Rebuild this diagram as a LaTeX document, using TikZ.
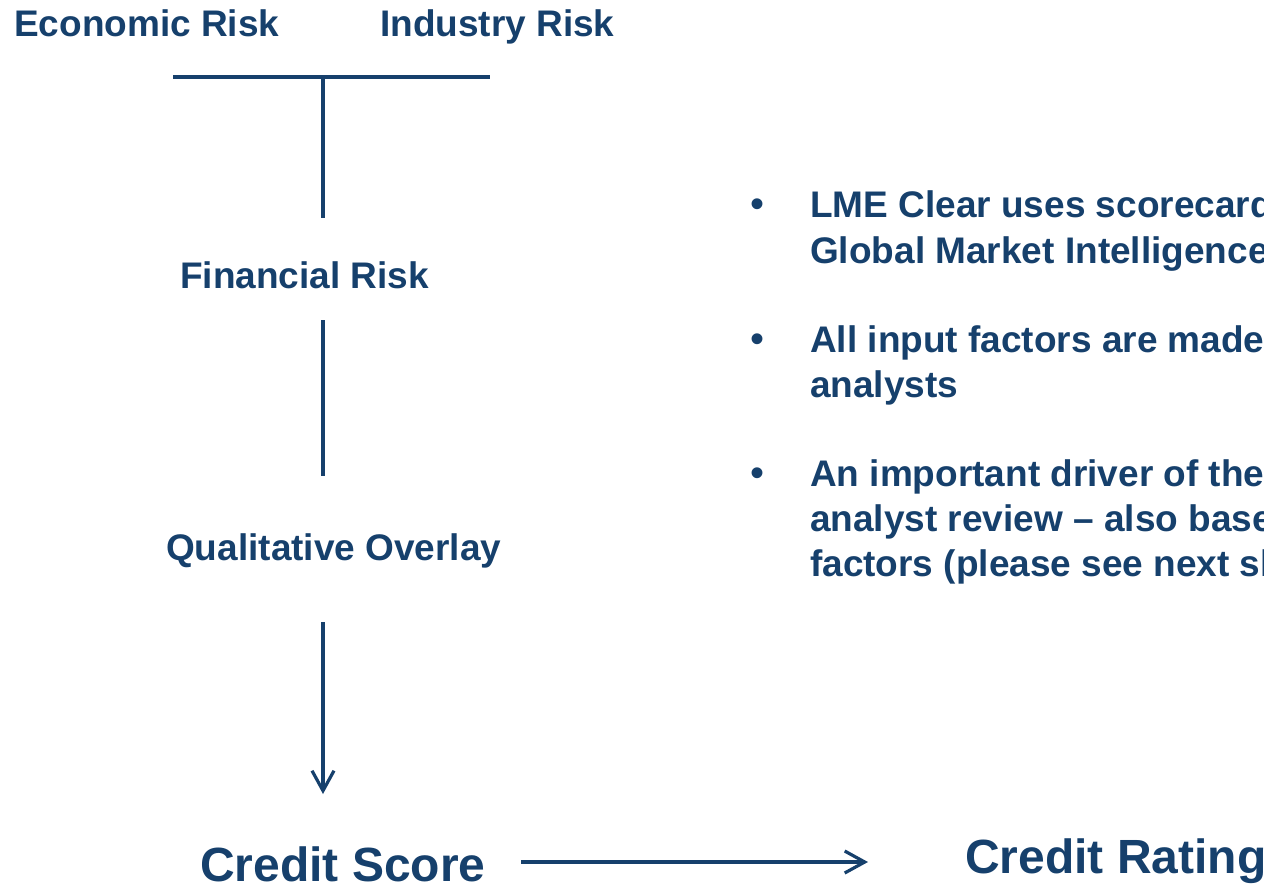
\documentclass[tikz,border=0pt]{standalone}
\usepackage{fontspec}
\setmainfont{Liberation Sans}
\usetikzlibrary{arrows.meta}
\definecolor{navy}{RGB}{22,64,108}
\tikzset{
  lbl/.style={anchor=base west,inner sep=0pt,text=navy,font=\bfseries\fontsize{37}{44}\selectfont},
  big/.style={anchor=base west,inner sep=0pt,text=navy,font=\bfseries\fontsize{48}{56}\selectfont},
  bul/.style={anchor=base west,inner sep=0pt,text=navy,font=\bfseries\fontsize{37}{45}\selectfont},
  dot/.style={anchor=base,inner sep=0pt,text=navy,font=\fontsize{40}{44}\selectfont},
  conn/.style={draw=navy,line width=3.4pt},
  arr/.style={conn,-{Straight Barb[length=20pt,width=22pt,line width=3.2pt]}}
}
\begin{document}
\begin{tikzpicture}[x=1pt,y=-1pt]
\useasboundingbox (0,0) rectangle (1264,884);
\clip (0,0) rectangle (1264,884);
% text nodes
\node[lbl] (eco) at (14,36) {Economic Risk};
\node[lbl] (ind) at (380,36) {Industry Risk};
\node[lbl] (fin) at (180,288) {Financial Risk};
\node[lbl] (qual) at (166,560) {Qualitative Overlay};
\node[big] (score) at (200,881) {Credit Score};
\node[big] (rating) at (965,873) {Credit Rating};
% bullets
\node[dot] (d1) at (757,217) {•};
\node[bul] (b1a) at (810,217) {LME Clear uses scorecard};
\node[bul] (b1b) at (810,263) {Global Market Intelligence};
\node[dot] (d2) at (757,352) {•};
\node[bul] (b2a) at (810,352) {All input factors are made};
\node[bul] (b2b) at (810,397) {analysts};
\node[dot] (d3) at (757,486) {•};
\node[bul] (b3a) at (810,486) {An important driver of the};
\node[bul] (b3b) at (810,531) {analyst review – also based};
\node[bul] (b3c) at (810,576) {factors (please see next slide)};
% connector points
\coordinate (barL) at (173,77);
\coordinate (barR) at (490,77);
\coordinate (barM) at (323,77);
\coordinate (l1e) at (323,218);
\coordinate (l2s) at (323,320);
\coordinate (l2e) at (323,476);
\coordinate (l3s) at (323,622);
\coordinate (l3e) at (323,794);
\coordinate (hs) at (521,862);
\coordinate (he) at (868,862);
% connectors
\draw[conn] (barL) -- (barR);
\draw[conn] (barM) -- (l1e);
\draw[conn] (l2s) -- (l2e);
\draw[arr] (l3s) -- (l3e);
\draw[arr] (hs) -- (he);
\end{tikzpicture}
\end{document}
